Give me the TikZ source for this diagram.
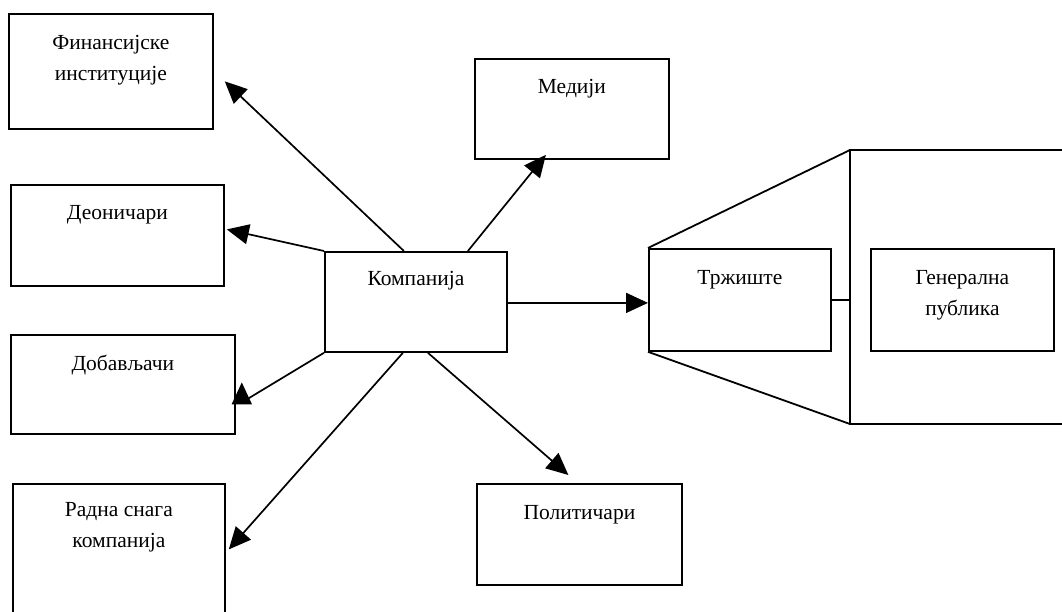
\documentclass[tikz,border=0pt]{standalone}
\usepackage{fontspec}
\setmainfont{Liberation Serif}
\usetikzlibrary{arrows.meta}
\begin{document}
\begin{tikzpicture}[x=1pt,y=-1pt,
  box/.style={draw,line width=1.8pt,rectangle,inner sep=0pt,anchor=north west},
  lbl/.style={font=\fontsize{21.5}{31}\selectfont,align=center,inner sep=0pt},
  arr/.style={line width=1.7pt,-{Triangle[length=22pt,width=20pt]}},
  ln/.style={line width=1.8pt}]
\useasboundingbox (0,0) rectangle (1062,611);
% boxes
\node[box,minimum width=204pt,minimum height=115pt] (fin) at (8,13) {};
\node[box,minimum width=213pt,minimum height=101pt] (deo) at (10,184) {};
\node[box,minimum width=224pt,minimum height=99pt] (dob) at (10,334) {};
\node[box,minimum width=212pt,minimum height=137pt] (rad) at (12,483) {};
\node[box,minimum width=182pt,minimum height=100pt] (comp) at (324,251) {};
\node[box,minimum width=194pt,minimum height=100pt] (med) at (474,58) {};
\node[box,minimum width=205pt,minimum height=101pt] (pol) at (476,483) {};
\node[box,minimum width=182pt,minimum height=102pt] (trz) at (648,248) {};
\node[box,minimum width=183pt,minimum height=102pt] (gen) at (870,248) {};
% labels
\node[lbl] (tfin) at ([yshift=-47pt]fin.north) {Финансијске\\институције};
\node[lbl] (tdeo) at ([yshift=-31pt]deo.north) {Деоничари};
\node[lbl] (tdob) at ([yshift=-31pt]dob.north) {Добављачи};
\node[lbl] (trad) at ([yshift=-44pt]rad.north) {Радна снага\\компанија};
\node[lbl] (tcomp) at ([yshift=-30pt]comp.north) {Компанија};
\node[lbl] (tmed) at ([yshift=-31pt]med.north) {Медији};
\node[lbl] (tpol) at ([yshift=-32pt]pol.north) {Политичари};
\node[lbl] (ttrz) at ([yshift=-32pt]trz.north) {Тржиште};
\node[lbl] (tgen) at ([yshift=-47pt]gen.north) {Генерална\\публика};
% big container
\coordinate (bigtl) at (850,150);
\coordinate (bigbl) at (850,424);
\coordinate (bigtr) at (1070,150);
\coordinate (bigbr) at (1070,424);
\draw[ln] (bigtr) -- (bigtl) -- (bigbl) -- (bigbr);
\draw[ln] (trz.north west) -- (bigtl);
\draw[ln] (trz.south west) -- (bigbl);
\draw[ln] (trz.east) -- (trz.east -| bigtl);
% arrows
\draw[arr] ([xshift=-12pt]comp.north) -- ([xshift=11pt,yshift=-10pt]fin.east);
\draw[arr] (comp.north west) -- ([xshift=2pt,yshift=6pt]deo.east);
\draw[arr] ([xshift=52pt]comp.north) -- ([xshift=-26pt,yshift=5pt]med.south);
\draw[arr] (comp.south west) -- ([xshift=6pt,yshift=-18pt]dob.east) -- ([xshift=6pt,yshift=2pt]dob.east);
\draw[arr] ([xshift=-13pt]comp.south) -- ([xshift=3pt,yshift=3pt]rad.east);
\draw[arr] ([xshift=12pt]comp.south) -- ([xshift=-11pt,yshift=8pt]pol.north);
\draw[arr] ([yshift=-1pt]comp.east) -- ([yshift=-1pt]comp.east -| trz.west);
\end{tikzpicture}
\end{document}
